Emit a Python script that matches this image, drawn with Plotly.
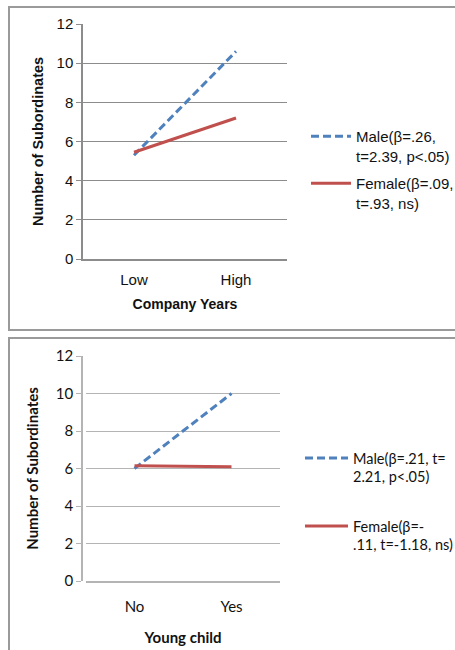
import plotly.graph_objects as go

# ---- data ----
cats_top = ["Low", "High"]
male_top = [5.3, 10.6]
female_top = [5.45, 7.2]
male_top_name = "Male(β=.26,<br>t=2.39, p<.05)"
female_top_name = "Female(β=.09,<br>t=.93, ns)"

cats_bot = ["No", "Yes"]
male_bot = [6.0, 10.0]
female_bot = [6.15, 6.1]
male_bot_name = "Male(β=.21, t=<br>2.21, p<.05)"
female_bot_name = "Female(β=-<br>.11, t=-1.18, ns)"

y_ticks = [0, 2, 4, 6, 8, 10, 12]

W, H = 455, 650
BLUE = "#4F81BD"
RED = "#C0504D"
FT = "Liberation Sans, Arial, sans-serif"
FB = "Lato, Open Sans, sans-serif"

def px(x):
    return x / W

def py(y):
    return 1 - y / H

fig = go.Figure()
fig.add_trace(go.Scatter(x=cats_top, y=male_top, mode="lines", name=male_top_name,
                         line=dict(color=BLUE, width=3, dash="8px,4px"),
                         xaxis="x", yaxis="y", legend="legend"))
fig.add_trace(go.Scatter(x=cats_top, y=female_top, mode="lines", name=female_top_name,
                         line=dict(color=RED, width=3),
                         xaxis="x", yaxis="y", legend="legend2"))
fig.add_trace(go.Scatter(x=cats_bot, y=male_bot, mode="lines", name=male_bot_name,
                         line=dict(color=BLUE, width=3, dash="8px,4px"),
                         xaxis="x2", yaxis="y2", legend="legend3"))
fig.add_trace(go.Scatter(x=cats_bot, y=female_bot, mode="lines", name=female_bot_name,
                         line=dict(color=RED, width=3),
                         xaxis="x2", yaxis="y2", legend="legend4"))

grid_top = "#8c8c8c"
grid_bot = "#b4b4b4"

def yax(domain, font, gc, title, tfont, standoff):
    return dict(domain=domain, range=[0, 12], tickvals=y_ticks, showgrid=True,
                gridcolor=gc, gridwidth=1, showline=True, linecolor=gc, linewidth=1.5,
                ticks="outside", ticklen=5, tickcolor=gc, zeroline=False,
                tickfont=dict(family=font, size=15, color="#111"),
                title=dict(text=title, font=tfont, standoff=standoff), automargin=False)

def xax(domain, anchor, font, gc, title, tfont, lstand, standoff):
    return dict(domain=domain, anchor=anchor, type="category", range=[-0.5, 1.5],
                showgrid=False, showline=True, linecolor=gc, linewidth=1.5,
                ticks="", ticklabelstandoff=lstand,
                tickfont=dict(family=font, size=15, color="#111"),
                title=dict(text=title, font=tfont, standoff=standoff), automargin=False)

fig.update_layout(
    width=W, height=H, margin=dict(l=0, r=0, t=0, b=0, autoexpand=False),
    paper_bgcolor="white", plot_bgcolor="white",
    xaxis=xax([px(83), px(287)], "y", FT, grid_top, "<b>Company Years</b>",
              dict(family=FT, size=14, color="#111"), 6, 12),
    yaxis=yax([py(259), py(24)], FT, grid_top, "<b>Number of Subordinates</b>",
              dict(family=FT, size=14.5, color="#111"), 9),
    xaxis2=xax([px(86), px(280)], "y2", FB, grid_bot, "<b>Young child</b>",
               dict(family=FB, size=15, color="#111"), 11, 19),
    yaxis2=yax([py(581), py(356)], FB, grid_bot, "<b>Number of Subordinates</b>",
               dict(family=FB, size=15, color="#111"), 14),
    showlegend=True,
)

def leg(x, ytop, font, size, iw):
    return dict(x=px(x), y=py(ytop), xanchor="left", yanchor="top", valign="top",
                bgcolor="rgba(0,0,0,0)", borderwidth=0, itemwidth=iw,
                font=dict(family=font, size=size, color="#111"))

fig.update_layout(
    legend=leg(306, 120, FT, 15, 40),
    legend2=leg(306, 167, FT, 15, 40),
    legend3=leg(300, 442, FB, 14.5, 43),
    legend4=leg(300, 510, FB, 14.5, 43),
)

border = dict(color="#9a9a9a", width=2)
fig.add_shape(type="rect", xref="paper", yref="paper", x0=px(9), x1=px(470),
              y0=py(330), y1=py(7), line=border, layer="below")
fig.add_shape(type="rect", xref="paper", yref="paper", x0=px(9), x1=px(470),
              y0=py(670), y1=py(338), line=border, layer="below")

fig.write_html("out.html")
